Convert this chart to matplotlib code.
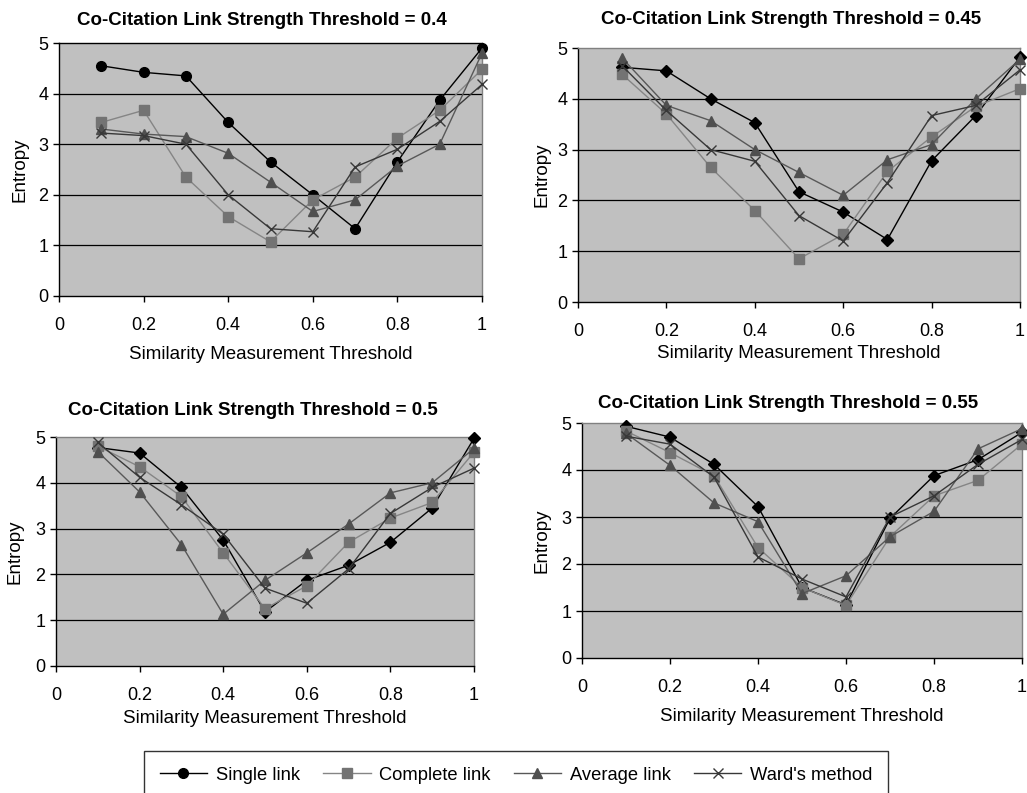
import numpy as np
import matplotlib
matplotlib.use("Agg")
import matplotlib.pyplot as plt

plt.rcParams['font.family'] = ['Liberation Sans', 'DejaVu Sans']

x = [0.1, 0.2, 0.3, 0.4, 0.5, 0.6, 0.7, 0.8, 0.9, 1.0]
thresholds = ["0.4", "0.45", "0.5", "0.55"]
methods = ["Single link", "Complete link", "Average link", "Ward's method"]

# entropy values per panel
single_04 = [4.55, 4.42, 4.35, 3.43, 2.65, 2.0, 1.33, 2.65, 3.87, 4.9]
complete_04 = [3.43, 3.67, 2.35, 1.57, 1.07, 1.9, 2.35, 3.12, 3.67, 4.48]
average_04 = [3.3, 3.2, 3.15, 2.82, 2.25, 1.67, 1.9, 2.57, 3.0, 4.8]
ward_04 = [3.22, 3.17, 3.0, 2.0, 1.33, 1.27, 2.55, 2.9, 3.45, 4.18]

single_045 = [4.62, 4.55, 4.0, 3.53, 2.17, 1.77, 1.23, 2.78, 3.67, 4.82]
complete_045 = [4.48, 3.7, 2.65, 1.8, 0.85, 1.33, 2.57, 3.25, 3.85, 4.2]
average_045 = [4.8, 3.87, 3.57, 3.0, 2.55, 2.1, 2.8, 3.1, 4.0, 4.78]
ward_045 = [4.65, 3.77, 3.0, 2.77, 1.7, 1.2, 2.35, 3.67, 3.87, 4.57]

single_05 = [4.77, 4.65, 3.9, 2.75, 1.18, 1.87, 2.2, 2.7, 3.45, 4.97]
complete_05 = [4.8, 4.35, 3.7, 2.47, 1.25, 1.75, 2.7, 3.23, 3.57, 4.67]
average_05 = [4.68, 3.8, 2.65, 1.13, 1.87, 2.47, 3.1, 3.78, 4.0, 4.75]
ward_05 = [4.88, 4.12, 3.52, 2.88, 1.7, 1.37, 2.12, 3.33, 3.9, 4.32]

single_055 = [4.93, 4.7, 4.12, 3.22, 1.5, 1.13, 2.97, 3.88, 4.22, 4.8]
complete_055 = [4.83, 4.37, 3.88, 2.35, 1.5, 1.12, 2.58, 3.45, 3.78, 4.55]
average_055 = [4.78, 4.1, 3.3, 2.9, 1.37, 1.75, 2.58, 3.12, 4.45, 4.88]
ward_055 = [4.72, 4.55, 3.85, 2.15, 1.68, 1.3, 3.0, 3.45, 4.12, 4.65]

panels = [
    [single_04, complete_04, average_04, ward_04],
    [single_045, complete_045, average_045, ward_045],
    [single_05, complete_05, average_05, ward_05],
    [single_055, complete_055, average_055, ward_055],
]

W, H = 1027, 793
# axes boxes in pixels: left, right, top, bottom
boxes = [(59, 482, 43, 296), (578, 1020, 48, 302), (56, 474, 437, 666), (582, 1022, 423, 658)]
title_x = [0.48, 0.483, 0.471, 0.468]
title_pad = [13.2, 17.5, 16.0, 11.0]
xlab_y = [-0.198, -0.169, -0.192, -0.213]
ylab_x = [-0.0716, -0.0618, -0.0773, -0.0711]
top_col = ['black', '#808080', '#808080', '#808080']

line_cols = ['#000000', '#858585', '#585858', '#383838']
mark_cols = ['#000000', '#737373', '#4f4f4f', '#383838']
markers_first = ['o', 's', '^', 'x']
markers_rest = ['D', 's', '^', 'x']

fig = plt.figure(figsize=(W / 100, H / 100), dpi=100)

handles = []
for k, (l, r, t, b) in enumerate(boxes):
    ax = fig.add_axes([l / W, 1 - b / H, (r - l) / W, (b - t) / H])
    ax.set_facecolor('#c0c0c0')
    mk = markers_first if k == 0 else markers_rest
    for i, ys in enumerate(panels[k]):
        ms = 6 if mk[i] == 'D' else 7
        h, = ax.plot(x, ys, color=line_cols[i], lw=1.0, marker=mk[i], ms=ms,
                     markerfacecolor=mark_cols[i], markeredgecolor=mark_cols[i],
                     markeredgewidth=1.0, clip_on=False, zorder=3)
        if k == 0:
            handles.append(h)
    ax.set_xlim(0, 1)
    ax.set_ylim(0, 5)
    ax.set_xticks([0, 0.2, 0.4, 0.6, 0.8, 1.0])
    ax.set_xticklabels(['0', '0.2', '0.4', '0.6', '0.8', '1'])
    ax.set_yticks([0, 1, 2, 3, 4, 5])
    for yv in [1, 2, 3, 4]:
        ax.axhline(yv, color='black', lw=0.9, zorder=1)
    ax.spines['top'].set_color(top_col[k])
    ax.spines['right'].set_color('#808080')
    for s in ['left', 'bottom']:
        ax.spines[s].set_color('black')
    for s in ax.spines:
        ax.spines[s].set_linewidth(1.0)
    ax.tick_params(axis='both', labelsize=13, length=4, width=1, direction='out',
                   colors='black')
    ax.tick_params(axis='x', pad=11)
    ax.tick_params(axis='y', pad=3.5)
    ax.set_title('Co-Citation Link Strength Threshold = ' + thresholds[k],
                 fontsize=13.5, fontweight='bold', pad=title_pad[k], x=title_x[k])
    ax.set_xlabel('Similarity Measurement Threshold', fontsize=13.5)
    ax.set_ylabel('Entropy', fontsize=13.5)
    ax.xaxis.set_label_coords(0.5, xlab_y[k])
    ax.yaxis.set_label_coords(ylab_x[k], 0.5)

leg = fig.legend(handles, methods, loc='upper left', ncol=4,
                 bbox_to_anchor=(144 / W, 1 - 751 / H), borderaxespad=0,
                 frameon=True, fancybox=False, edgecolor='black', fontsize=13.2,
                 handlelength=2.6, handletextpad=0.45, columnspacing=1.27,
                 borderpad=0.85)
leg.get_frame().set_linewidth(1.0)

fig.savefig('out.png', dpi=100)
